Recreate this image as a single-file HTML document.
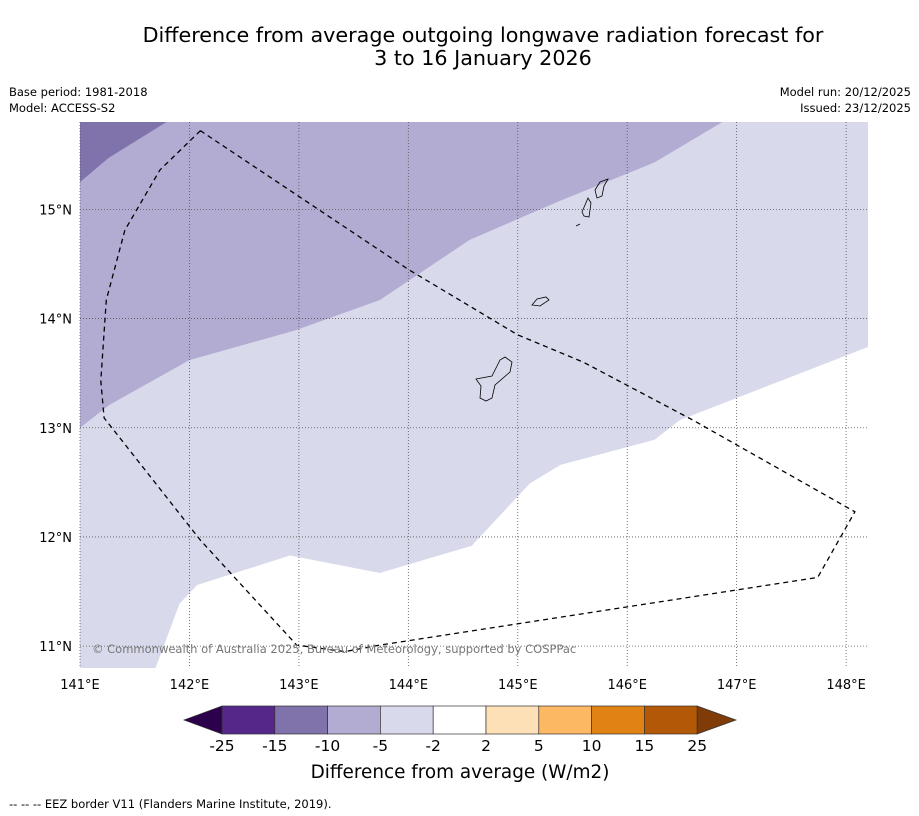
<!DOCTYPE html>
<html><head><meta charset="utf-8"><style>
body{margin:0;background:#fff;font-family:"DejaVu Sans","Liberation Sans",sans-serif;}
svg{display:block}
</style></head><body>
<svg id="c" width="919" height="816" xmlns="http://www.w3.org/2000/svg">
<text x="483" y="42" text-anchor="middle" font-size="20.7">Difference from average outgoing longwave radiation forecast for</text>
<text x="483" y="65" text-anchor="middle" font-size="20.7">3 to 16 January 2026</text>
<text x="9" y="96" font-size="11.5">Base period: 1981-2018</text>
<text x="9" y="112" font-size="11.5">Model: ACCESS-S2</text>
<text x="911" y="96" font-size="11.5" text-anchor="end">Model run: 20/12/2025</text>
<text x="911" y="112" font-size="11.5" text-anchor="end">Issued: 23/12/2025</text>
<g id="map"></g>
<g id="cb"></g>
<text x="460" y="778" text-anchor="middle" font-size="18.4">Difference from average (W/m2)</text>
<text x="9" y="808" font-size="11.5">--  --  -- EEZ border V11 (Flanders Marine Institute, 2019).</text>
</svg>
<script>
const lonTicks=[141,142,143,144,145,146,147,148];
const latTicks=[11,12,13,14,15];
const darkBoundary=[[141.0,15.25],[141.26,15.47],[141.79,15.8]];
const midBoundary=[[141,13.0],[141.27,13.21],[142.0,13.62],[142.96,13.89],[143.74,14.17],[144.56,14.72],[145.39,15.08],[146.25,15.43],[146.87,15.8]];
const lightBoundary=[[141.69,10.8],[141.91,11.39],[142.07,11.56],[142.92,11.83],[143.74,11.67],[144.58,11.92],[145.11,12.49],[145.39,12.66],[146.25,12.89],[146.48,13.07],[148.2,13.74]];
const eez=[[142.1,15.72],[141.73,15.36],[141.41,14.81],[141.24,14.17],[141.19,13.43],[141.22,13.09],[142.1,11.97],[142.98,11.01],[143.42,10.95],[143.74,11.01],[147.74,11.63],[148.08,12.23],[146.6,13.07],[145.6,13.6],[145.0,13.85],[144.0,14.45],[142.1,15.72]];
const cbLevels=["-25","-15","-10","-5","-2","2","5","10","15","25"];
const cbColors=["#542788","#8073ac","#b2abd2","#d8daeb","#ffffff","#fee0b6","#fdb863","#e08214","#b35806"];
const lonMin=141,lonMax=148.2,latMin=10.8,latMax=15.8,X0=80,X1=868,Y0=122,Y1=668;
const sx=l=>X0+(l-lonMin)*(X1-X0)/(lonMax-lonMin);
const sy=l=>Y1-(l-latMin)*(Y1-Y0)/(latMax-latMin);
const NS="http://www.w3.org/2000/svg";
function mk(p,t,a){const e=document.createElementNS(NS,t);for(const k in a)e.setAttribute(k,a[k]);p.appendChild(e);return e;}
const map=document.getElementById('map');
const pts=a=>a.map(p=>sx(p[0]).toFixed(1)+','+sy(p[1]).toFixed(1)).join(' ');
let r=mk(map,'rect',{x:X0,y:Y0,width:X1-X0,height:Y1-Y0,fill:'#ffffff'});


let p=mk(map,'polygon',{points:pts([[lonMin,latMin]].concat(lightBoundary,[[lonMax,latMax],[lonMin,latMax]])),fill:'#d8daeb'});


p=mk(map,'polygon',{points:pts(midBoundary.concat([[lonMin,latMax]])),fill:'#b2abd2'});


p=mk(map,'polygon',{points:pts(darkBoundary.concat([[lonMin,latMax]])),fill:'#8073ac'});


lonTicks.forEach(l=>{const x=sx(l);
 const g=mk(map,'line',{x1:x,x2:x,y1:Y0,y2:Y1,stroke:'#555',"stroke-width":0.8,"stroke-dasharray":"1,2"});
 
 
 const t=mk(map,'text',{x:x,y:689,"text-anchor":"middle","font-size":13});t.textContent=l+'°E';
 
 });
latTicks.forEach(l=>{const y=sy(l);
 const g=mk(map,'line',{x1:X0,x2:X1,y1:y,y2:y,stroke:'#555',"stroke-width":0.8,"stroke-dasharray":"1,2"});
 
 
 const t=mk(map,'text',{x:72,y:y+5,"text-anchor":"end","font-size":13});t.textContent=l+'°N';
 
 });
const islands=[
"M476,379 L492,376 L500,360 L505,357 L512,362 L510,372 L495,385 L492,398 L486,401 L480,398 L481,386 Z",
"M532,305 L537,299 L546,297 L549,300 L540,306 Z",
"M582,212 L588,198 L591,203 L589,217 L584,216 Z",
"M595,190 L600,182 L608,179 L604,186 L602,196 L597,198 Z",
"M576,226 L580,224"];
islands.forEach(d=>{const e=mk(map,'path',{d:d,fill:'none',stroke:'#000',"stroke-width":0.8});
 
 });
p=mk(map,'polyline',{points:pts(eez),fill:'none',stroke:'#000',"stroke-width":1.3,"stroke-dasharray":"5,4"});


let t=mk(map,'text',{x:92,y:653,"font-size":11.5,fill:'#777'});t.textContent='© Commonwealth of Australia 2025, Bureau of Meteorology, supported by COSPPac';


const cb=document.getElementById('cb');
const cx0=222,cw=52.8,cy=706,ch=28;
cbColors.forEach((c,i)=>{const e=mk(cb,'rect',{x:cx0+i*cw,y:cy,width:cw,height:ch,fill:c,stroke:'#333',"stroke-width":0.7});
 
 });
const cx1=cx0+cbColors.length*cw;
p=mk(cb,'polygon',{points:`${cx0},${cy} ${cx0},${cy+ch} 184,${cy+ch/2}`,fill:'#2d004b',stroke:'#333',"stroke-width":0.7});


p=mk(cb,'polygon',{points:`${cx1},${cy} ${cx1},${cy+ch} 736,${cy+ch/2}`,fill:'#7f3b08',stroke:'#333',"stroke-width":0.7});


cbLevels.forEach((l,i)=>{const e=mk(cb,'text',{x:cx0+i*cw,y:751,"text-anchor":"middle","font-size":15.5});e.textContent=l;
 
 });
</script>
</body></html>
